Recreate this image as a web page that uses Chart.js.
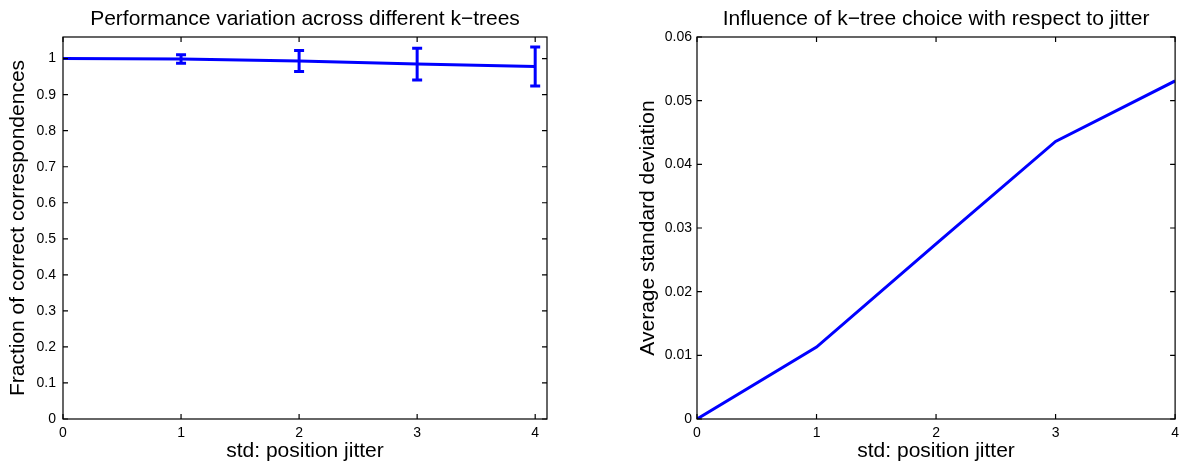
<!DOCTYPE html>
<html>
<head>
<meta charset="utf-8">
<script src="https://cdn.jsdelivr.net/npm/chart.js@4.4.0/dist/chart.umd.min.js"></script>
<style>
    html, body { margin: 0; padding: 0; background: #fff; }
    .panel { position: absolute; top: 0; height: 462px; }
    #left { left: 0; width: 592px; }
    #right { left: 592px; width: 593px; }
</style>
</head>
<body>
<div class="panel" id="left"><canvas id="perfChart"></canvas></div>
<div class="panel" id="right"><canvas id="jitterChart"></canvas></div>
<script>
// data
const jitterLevels = [0, 1, 2, 3, 4];
const fractionCorrect = [1.0, 0.999, 0.9935, 0.985, 0.978];
const fractionErr = [0, 0.012, 0.029, 0.044, 0.054];
const avgStdDev = [0, 0.0113, 0.0275, 0.0436, 0.0531];

const leftYTicks = [0, 0.1, 0.2, 0.3, 0.4, 0.5, 0.6, 0.7, 0.8, 0.9, 1];
const rightYTicks = [0, 0.01, 0.02, 0.03, 0.04, 0.05, 0.06];
const xTicks = [0, 1, 2, 3, 4];

const FONT = "'Liberation Sans', Arial, sans-serif";
Chart.defaults.font.family = FONT;
Chart.defaults.color = '#000';

// matlab-like box with inward ticks on all four sides
const boxPlugin = {
    id: 'matlabBox',
    afterDraw(chart) {
        const ctx = chart.ctx;
        const a = chart.chartArea;
        const xs = chart.scales.x, ys = chart.scales.y;
        const len = 5;
        ctx.save();
        ctx.strokeStyle = '#000';
        ctx.lineWidth = 1.2;
        ctx.strokeRect(a.left, a.top, a.right - a.left, a.bottom - a.top);
        ctx.beginPath();
        xs.ticks.forEach(t => {
            const px = xs.getPixelForValue(t.value);
            ctx.moveTo(px, a.bottom); ctx.lineTo(px, a.bottom - len);
            ctx.moveTo(px, a.top); ctx.lineTo(px, a.top + len);
        });
        ys.ticks.forEach(t => {
            const py = ys.getPixelForValue(t.value);
            ctx.moveTo(a.left, py); ctx.lineTo(a.left + len, py);
            ctx.moveTo(a.right, py); ctx.lineTo(a.right - len, py);
        });
        ctx.stroke();
        ctx.restore();
    }
};

// title centred over the plot box, like matlab does
const plotTitlePlugin = {
    id: 'plotTitle',
    afterDraw(chart, args, opts) {
        const ctx = chart.ctx;
        const a = chart.chartArea;
        ctx.save();
        ctx.font = '21px ' + FONT;
        ctx.fillStyle = '#000';
        ctx.textAlign = 'center';
        ctx.textBaseline = 'alphabetic';
        ctx.fillText(opts.text, (a.left + a.right) / 2, 25);
        ctx.restore();
    }
};

// vertical error bars with caps
const errorBarPlugin = {
    id: 'errorBars',
    afterDatasetsDraw(chart, args, opts) {
        if (!opts.errors) return;
        const ctx = chart.ctx;
        const xs = chart.scales.x, ys = chart.scales.y;
        const pts = chart.data.datasets[0].data;
        ctx.save();
        ctx.strokeStyle = '#0000ff';
        ctx.lineWidth = 3;
        pts.forEach((p, i) => {
            const e = opts.errors[i];
            if (!e) return;
            const px = xs.getPixelForValue(p.x);
            const top = ys.getPixelForValue(p.y + e);
            const bot = ys.getPixelForValue(p.y - e);
            ctx.beginPath();
            ctx.moveTo(px, top); ctx.lineTo(px, bot);
            ctx.moveTo(px - 5, top); ctx.lineTo(px + 5, top);
            ctx.moveTo(px - 5, bot); ctx.lineTo(px + 5, bot);
            ctx.stroke();
        });
        ctx.restore();
    }
};

function makeChart(id, opts) {
    const points = jitterLevels.map((x, i) => ({ x: x, y: opts.values[i] }));
    return new Chart(document.getElementById(id), {
        type: 'line',
        data: {
            datasets: [{
                data: points,
                borderColor: '#0000ff',
                borderWidth: 3,
                pointRadius: 0,
                tension: 0,
                fill: false
            }]
        },
        options: {
            responsive: true,
            maintainAspectRatio: false,
            animation: false,
            layout: { padding: opts.padding },
            plugins: {
                legend: { display: false },
                tooltip: { enabled: false },
                title: { display: false },
                plotTitle: { text: opts.title },
                errorBars: { errors: opts.errors }
            },
            scales: {
                x: {
                    type: 'linear',
                    min: 0,
                    max: opts.xMax,
                    afterBuildTicks: s => { s.ticks = xTicks.map(v => ({ value: v })); },
                    afterFit: s => { s.height = 43; },
                    grid: { display: false, drawTicks: false },
                    border: { display: false },
                    ticks: {
                        font: { size: 14 },
                        padding: 6,
                        maxRotation: 0
                    },
                    title: {
                        display: true,
                        text: 'std: position jitter',
                        font: { size: 21 },
                        padding: { top: 0, bottom: -2 }
                    }
                },
                y: {
                    type: 'linear',
                    min: 0,
                    max: opts.yMax,
                    afterBuildTicks: s => { s.ticks = opts.yTicks.map(v => ({ value: v })); },
                    afterFit: s => { s.width = opts.yWidth; },
                    grid: { display: false, drawTicks: false },
                    border: { display: false },
                    ticks: {
                        font: { size: 14 },
                        padding: opts.yTickPad,
                        callback: v => String(v)
                    },
                    title: {
                        display: true,
                        text: opts.yLabel,
                        font: { size: 21 },
                        padding: { top: opts.yTitlePad, bottom: 0 }
                    }
                }
            }
        },
        plugins: [boxPlugin, errorBarPlugin, plotTitlePlugin]
    });
}

makeChart('perfChart', {
    title: 'Performance variation across different k\u2212trees',
    yLabel: 'Fraction of correct correspondences',
    values: fractionCorrect,
    errors: fractionErr,
    yTicks: leftYTicks,
    yMax: 1.06,
    xMax: 4.1,
    yWidth: 63,
    yTickPad: 7,
    yTitlePad: 5.5,
    padding: { left: 0, right: 45, top: 37, bottom: 0 }
});

makeChart('jitterChart', {
    title: 'Influence of k\u2212tree choice with respect to jitter',
    yLabel: 'Average standard deviation',
    values: avgStdDev,
    errors: null,
    yTicks: rightYTicks,
    yMax: 0.06,
    xMax: 4,
    yWidth: 75,
    yTickPad: 5,
    yTitlePad: 13.4,
    padding: { left: 30, right: 5, top: 37, bottom: 0 }
});
</script>
</body>
</html>
